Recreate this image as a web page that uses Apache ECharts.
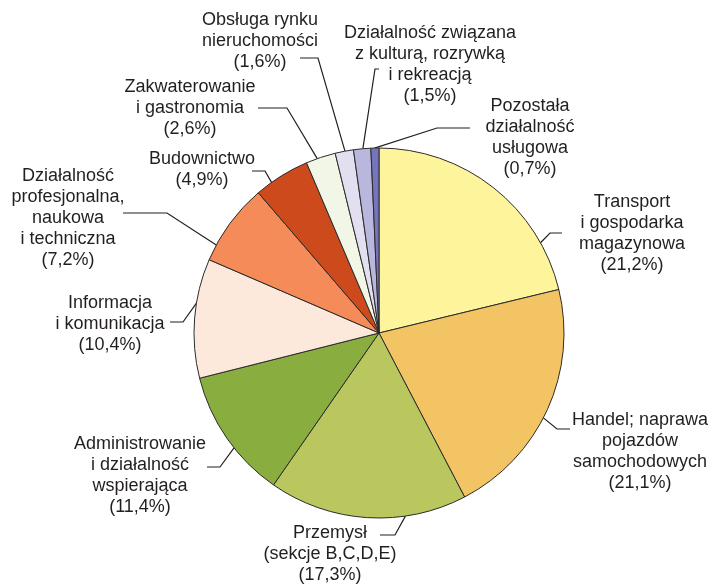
<!DOCTYPE html>
<html>
<head>
<meta charset="utf-8">
<style>
  html, body { margin: 0; padding: 0; background: #fff; }
  #chart { width: 715px; height: 584px; }
</style>
<script src="https://cdn.jsdelivr.net/npm/echarts@6/dist/echarts.min.js"></script>
</head>
<body>
<div id="chart"></div>
<script>
const names = [
  'Transport\ni gospodarka\nmagazynowa',
  'Handel; naprawa\npojazdów\nsamochodowych',
  'Przemysł\n(sekcje B,C,D,E)',
  'Administrowanie\ni działalność\nwspierająca',
  'Informacja\ni komunikacja',
  'Działalność\nprofesjonalna,\nnaukowa\ni techniczna',
  'Budownictwo',
  'Zakwaterowanie\ni gastronomia',
  'Obsługa rynku\nnieruchomości',
  'Działalność związana\nz kulturą, rozrywką\ni rekreacją',
  'Pozostała\ndziałalność\nusługowa'
]
const values = [21.2, 21.1, 17.3, 11.4, 10.4, 7.2, 4.9, 2.6, 1.6, 1.5, 0.7]
const colors = ['#fef49c', '#f3c464', '#b9c75e', '#8aad40', '#fde8dc', '#f48b58', '#cc4a1c', '#f2f6e6', '#e2dff0', '#b9b7dd', '#7675bb']

const cx = 379
const cy = 333
const r = 185

// label placement: text centre, leader start angle (deg from top, clockwise), elbow, end
const labelPos = [
  { x: 632, y: 234, a: 60.8, elbow: [550, 233], end: [562, 233] },
  { x: 640, y: 452, a: 117.3, elbow: [557, 429], end: [570, 429] },
  { x: 330, y: 554, a: 171.8, elbow: [395, 535], end: [380, 535] },
  { x: 140, y: 476, a: 231.6, elbow: [220, 467], end: [207, 467] },
  { x: 110, y: 324, a: 279.3, elbow: [183, 322], end: [170, 322] },
  { x: 68, y: 218, a: 298.4, elbow: [167, 213], end: [123, 213] },
  { x: 202, y: 170, a: 324.5, elbow: [265, 171], end: [252, 171] },
  { x: 190, y: 108, a: 340.5, elbow: [287, 108], end: [258, 108] },
  { x: 260, y: 41, a: 349.4, elbow: [318, 58], end: [300, 58] },
  { x: 430, y: 65, a: 355, elbow: [375, 69], end: [379, 69] },
  { x: 530, y: 138, a: 358.6, elbow: [437, 128], end: [470, 128] }
]

const fmt = (v) => v.toFixed(1).replace('.', ',')

const chart = echarts.init(document.getElementById('chart'))
chart.setOption({
  animation: false,
  series: [{
    type: 'pie',
    center: [cx, cy],
    radius: r,
    startAngle: 90,
    clockwise: true,
    data: names.map((name, i) => ({ name, value: values[i], itemStyle: { color: colors[i] } })),
    itemStyle: { borderColor: '#2b2b2b', borderWidth: 1 },
    label: {
      show: true,
      position: 'outside',
      formatter: (p) => `${p.name}\n(${fmt(p.value)}%)`,
      fontFamily: 'Liberation Sans, Arial, sans-serif',
      fontSize: 18,
      lineHeight: 21,
      color: '#231f20',
      align: 'center',
      width: 220,
      overflow: 'none'
    },
    labelLine: {
      show: true,
      length: 10,
      length2: 10,
      lineStyle: { color: '#231f20', width: 1.2 }
    },
    labelLayout: (params) => {
      const lp = labelPos[params.dataIndex]
      const ang = lp.a * Math.PI / 180
      const start = [cx + r * Math.sin(ang), cy - r * Math.cos(ang)]
      return {
        x: lp.x,
        y: lp.y,
        align: 'center',
        verticalAlign: 'middle',
        labelLinePoints: [start, lp.elbow, lp.end]
      }
    }
  }]
})
</script>
</body>
</html>
